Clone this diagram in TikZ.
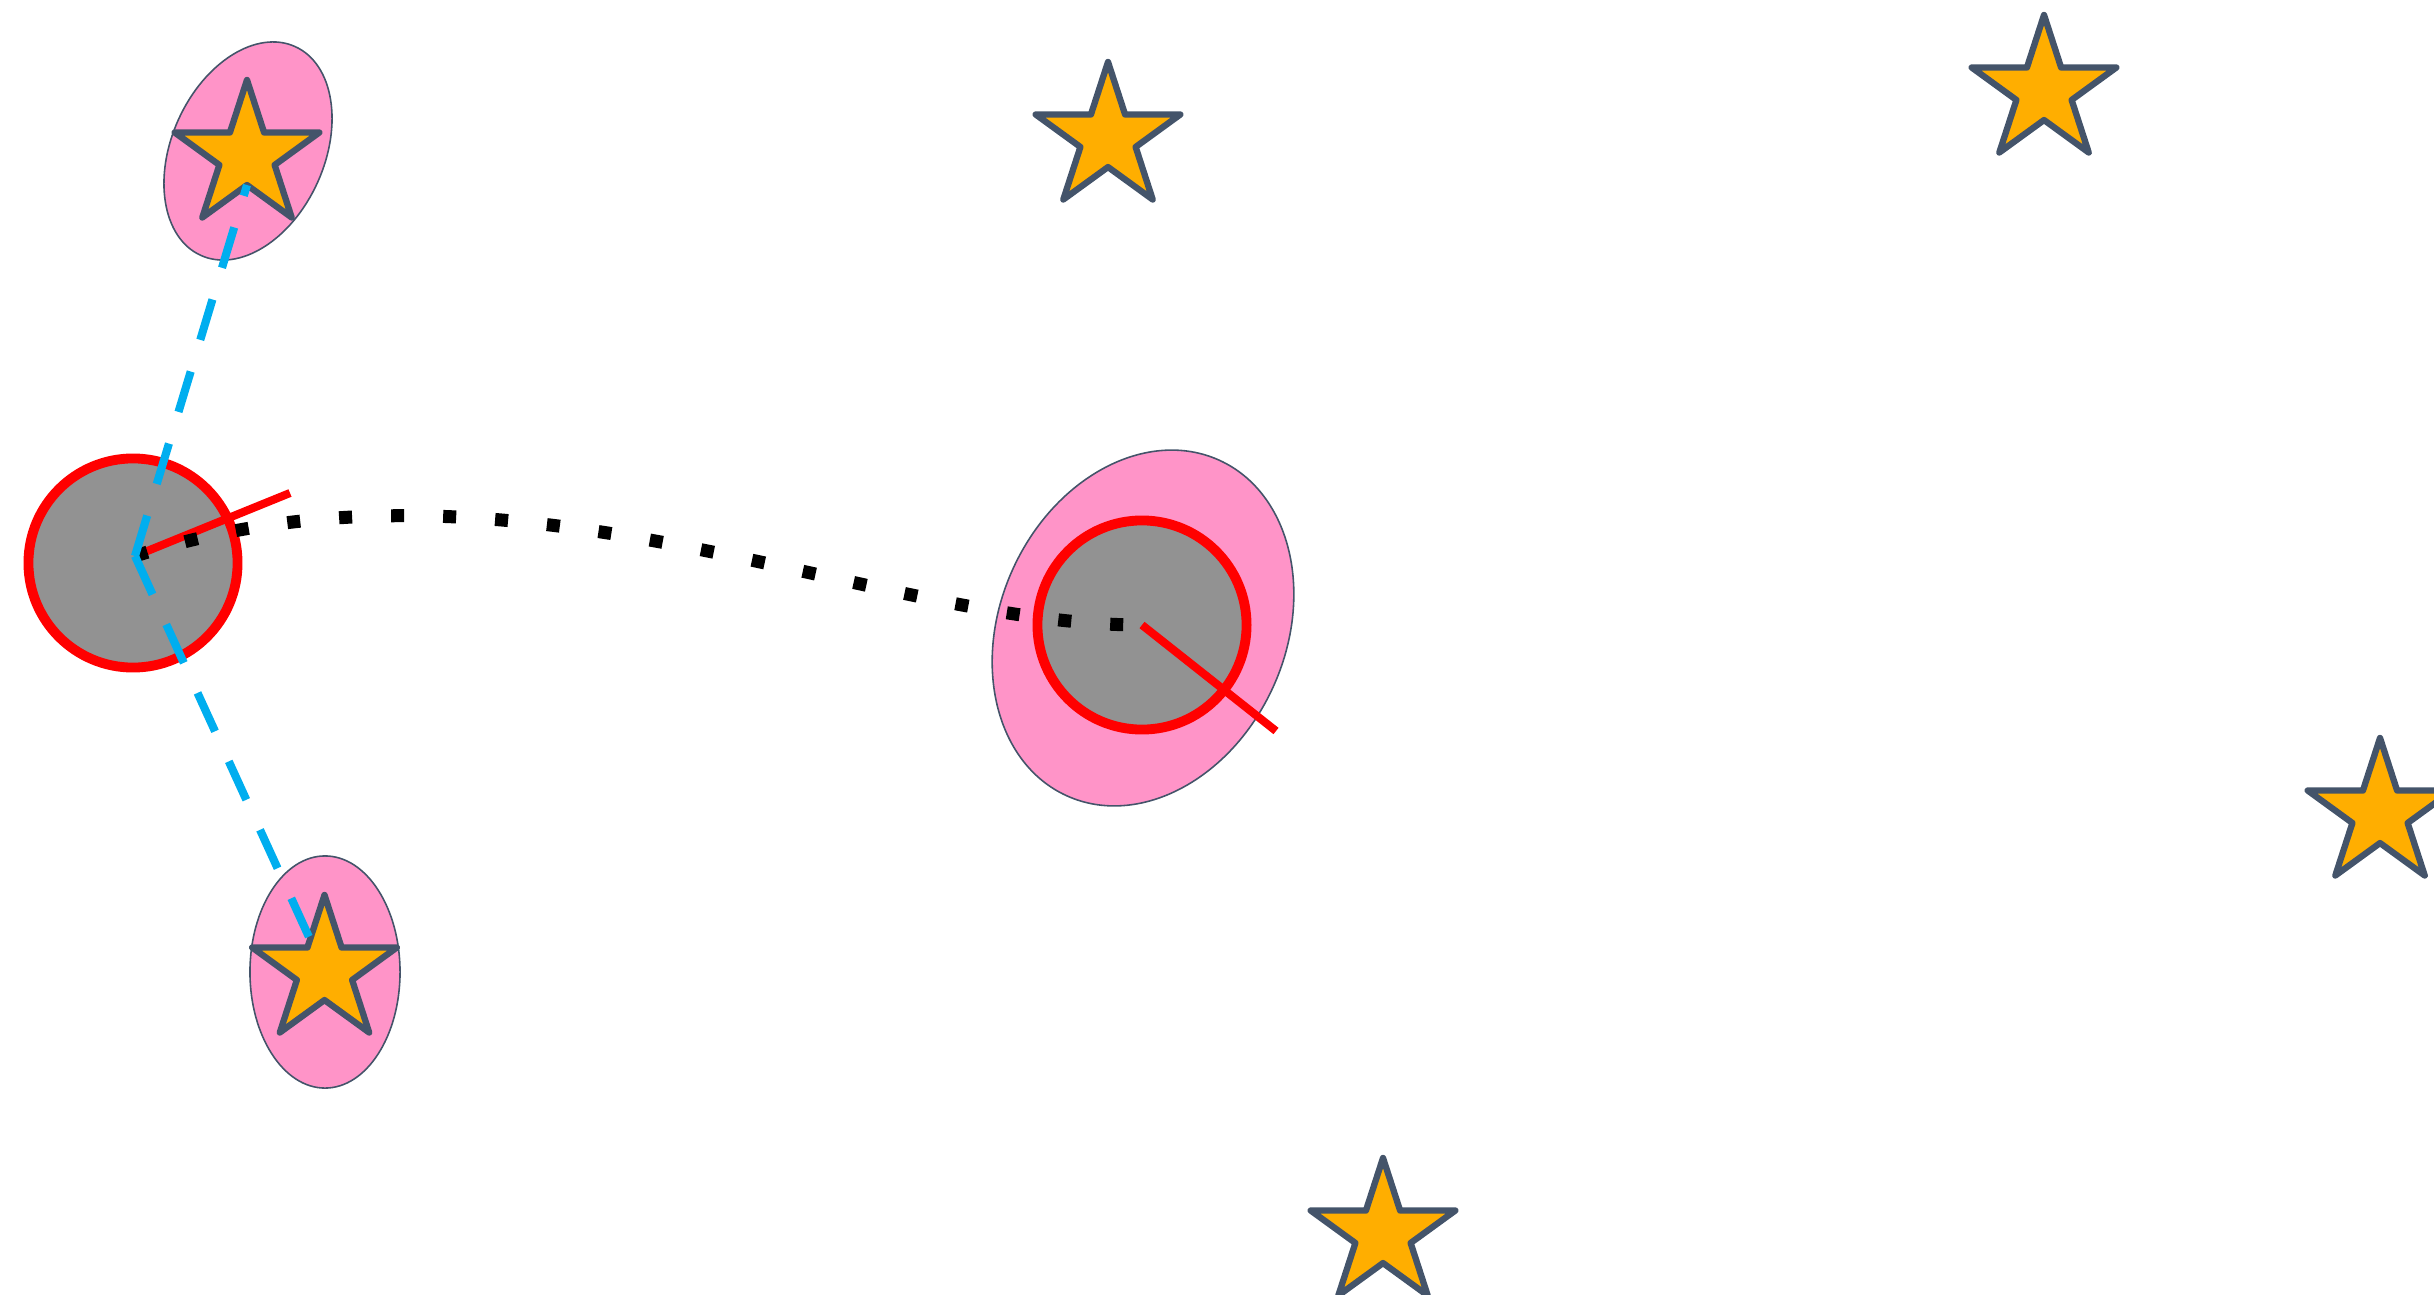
\documentclass[tikz,border=0pt]{standalone}
\usetikzlibrary{shapes.geometric}
\definecolor{pinkfill}{HTML}{FF94C8}
\definecolor{slate}{HTML}{44546A}
\definecolor{starfill}{HTML}{FFAE00}
\definecolor{grayfill}{HTML}{929292}
\definecolor{cyanline}{HTML}{00AEEF}
\begin{document}
\begin{tikzpicture}[x=0.01cm,y=-0.01cm,
 blob/.style={ellipse, draw=slate, line width=0.45pt, fill=pinkfill, inner sep=0pt, outer sep=0pt},
 disc/.style={circle, draw=red, line width=2.8pt, fill=grayfill, minimum size=2.09cm, inner sep=0pt},
 starnode/.style={star, star points=5, star point ratio=2.618, minimum size=1.52cm, inner sep=0pt, outer sep=0pt, draw=slate, fill=starfill, line width=1.8pt, line join=round},
 radius line/.style={red, line width=2.3pt},
 dotted link/.style={line width=3.7pt, dash pattern=on 3.7pt off 11.1pt},
 dashed link/.style={cyanline, line width=2.3pt, dash pattern=on 12pt off 9.4pt}]
\useasboundingbox (0,0) rectangle (2434,1294);
\clip (0,0) rectangle (2434,1294);

\node[blob, minimum width=2.29cm, minimum height=1.526cm, rotate=65.7] (eA) at (248,151) {};
\node[blob, minimum width=3.684cm, minimum height=2.856cm, rotate=65.5] (eM) at (1143,628) {};
\node[blob, minimum width=1.5cm, minimum height=2.32cm] (eF) at (325,972) {};

\node[disc] (cL) at (133,563) {};
\node[disc] (cM) at (1142,625) {};

\coordinate (hub) at (135,556);
\coordinate (rL) at (290,493);
\coordinate (rM) at (1276,731);

\draw[radius line] (hub) -- (rL);
\draw[radius line] (cM.center) -- (rM);
\draw[dotted link] (hub) .. controls (512,435) and (869,625) .. (cM.center);

\node[starnode] (sA) at (247,156) {};
\node[starnode] (sB) at (1108,138) {};
\node[starnode] (sC) at (2044,91) {};
\node[starnode] (sD) at (2380,814) {};
\node[starnode] (sE) at (1383,1234) {};
\node[starnode] (sF) at (324.5,971) {};

\draw[dashed link] (hub) -- (sA.south);
\draw[dashed link] (hub) -- (sF);
\end{tikzpicture}
\end{document}
